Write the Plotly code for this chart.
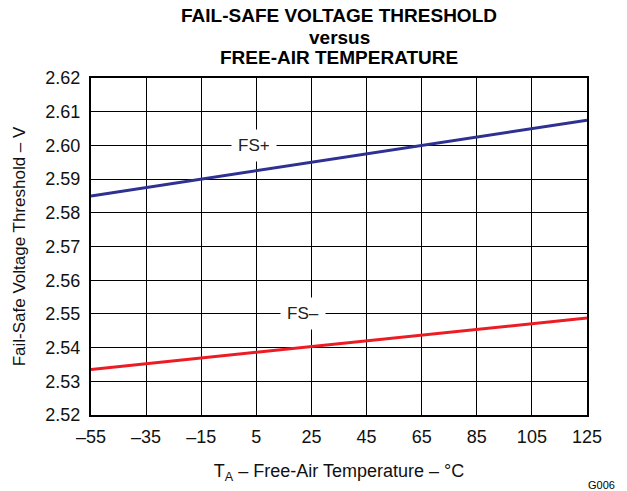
import plotly.graph_objects as go

temps = [-55, -35, -15, 5, 25, 45, 65, 85, 105, 125]
fs_plus = [2.5850, 2.5875, 2.5900, 2.5925, 2.5950, 2.5975, 2.6000, 2.6025, 2.6050, 2.6075]
fs_minus = [2.5335, 2.5352, 2.5369, 2.5386, 2.5403, 2.5420, 2.5437, 2.5454, 2.5471, 2.5488]
x_ticks = [-55, -35, -15, 5, 25, 45, 65, 85, 105, 125]
x_ticktext = ["–55", "–35", "–15", "5", "25", "45", "65", "85", "105", "125"]
y_ticks = [2.52, 2.53, 2.54, 2.55, 2.56, 2.57, 2.58, 2.59, 2.60, 2.61, 2.62]
y_ticktext = ["2.52", "2.53", "2.54", "2.55", "2.56", "2.57", "2.58", "2.59", "2.60", "2.61", "2.62"]

FONT = "Liberation Sans, Arial, sans-serif"
W, H = 627, 491
L, R, T, B = 91, 587, 78, 415

def py(ypx):
    return (B - ypx) / (B - T)

def px(xpx):
    return (xpx - L) / (R - L)

fig = go.Figure()
fig.add_trace(go.Scatter(x=temps, y=fs_plus, mode="lines", line=dict(color="#2e3192", width=3), showlegend=False))
fig.add_trace(go.Scatter(x=temps, y=fs_minus, mode="lines", line=dict(color="#ed1c24", width=3), showlegend=False))

fig.add_annotation(x=4, y=2.60, text="FS+", showarrow=False, bgcolor="white",
                   font=dict(family=FONT, size=17, color="#222"), borderpad=6, xref="x", yref="y")
fig.add_annotation(x=22, y=2.55, text="FS–", showarrow=False, bgcolor="white",
                   font=dict(family=FONT, size=17, color="#222"), borderpad=6, xref="x", yref="y")

title_lines = [("FAIL-SAFE VOLTAGE THRESHOLD", 15), ("versus", 37.5), ("FREE-AIR TEMPERATURE", 57.5)]
for txt, ypx in title_lines:
    fig.add_annotation(x=0.5, xref="paper", y=py(ypx), yref="paper", yanchor="middle",
                       text="<b>%s</b>" % txt, showarrow=False,
                       font=dict(family=FONT, size=19, color="black"))

fig.add_annotation(x=px(617), xref="paper", y=py(485), yref="paper",
                   xanchor="right", yanchor="middle", text="G006", showarrow=False,
                   font=dict(family=FONT, size=11, color="black"))

fig.update_layout(
    width=W, height=H,
    margin=dict(l=L, r=W - R, t=T, b=H - B, pad=0),
    plot_bgcolor="white", paper_bgcolor="white",
    font=dict(family=FONT, size=17, color="black"),
    xaxis=dict(range=[-55, 125], tickvals=x_ticks, ticktext=x_ticktext, showgrid=True,
               gridcolor="black", gridwidth=1, zeroline=False, showline=True, linecolor="black",
               linewidth=2, mirror=True, ticks="", tickfont=dict(size=18, color="#111"),
               ticklabelstandoff=4,
               title=dict(text="T<sub>A</sub> – Free-Air Temperature – °C", font=dict(size=18, color="#111"), standoff=19)),
    yaxis=dict(range=[2.52, 2.62], tickvals=y_ticks, ticktext=y_ticktext, showgrid=True,
               gridcolor="black", gridwidth=1, zeroline=False, showline=True, linecolor="black",
               linewidth=2, mirror=True, ticks="", tickfont=dict(size=18, color="#111"),
               ticklabelstandoff=5,
               title=dict(text="Fail-Safe Voltage Threshold – V", font=dict(size=17, color="#111"), standoff=15)),
)
fig.write_html("out.html", post_script="document.body.style.margin='0px';",
               config={"displayModeBar": False})
